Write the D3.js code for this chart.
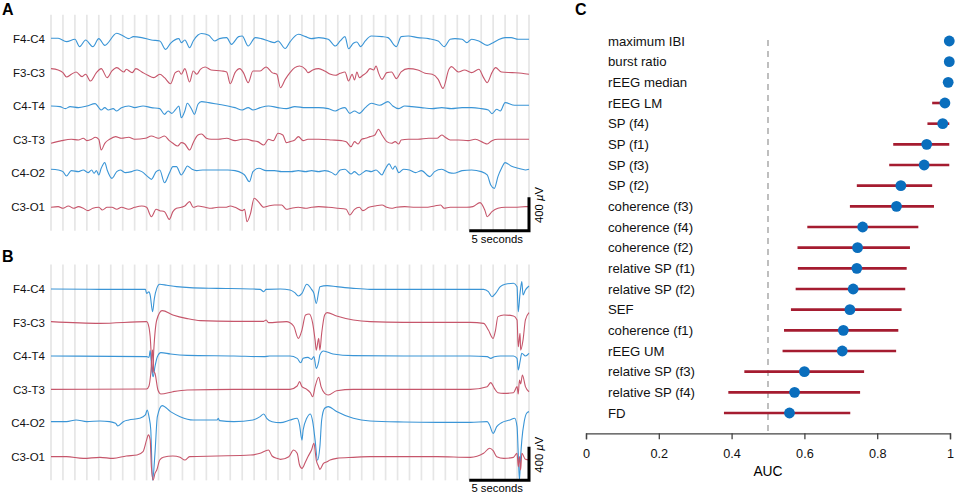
<!DOCTYPE html>
<html lang="en">
<head>
    <meta charset="UTF-8">
    <title>EEG traces and AUC</title>
    <style>
        body{ margin:0; background:#fff; }
        svg{ font-family: "Liberation Sans", Arial, sans-serif; }
        .grid{ stroke:#e6e6e6; stroke-width:1.7px; }
        .blue{ stroke:#3a95d6; stroke-width:1.1px; fill:none; }
        .red{ stroke:#c6566b; stroke-width:1.1px; fill:none; }
        .chan{ font-size:11.5px; fill:#111; }
        .letter{ font-size:16px; font-weight:bold; }
        .bar{ stroke:#000; stroke-width:3px; fill:none; }
        .barText{ font-size:11.3px; }
        .ci{ stroke:#a51c30; stroke-width:2.6px; }
        .dot{ fill:#0a6ebd; }
        .feat{ font-size:13.2px; fill:#111; }
        .xaxisC path, .xaxisC line{ stroke:#444; stroke-width:1.3px; }
        .xaxisC text{ font-size:12.7px; fill:#111; font-family:"Liberation Sans", Arial, sans-serif; }
    </style>
    <script src="https://cdn.jsdelivr.net/npm/d3@7"></script>
</head>
<body>
<svg id="main" width="957" height="495" viewBox="0 0 957 495"></svg>
<script>
    // channel names, time in seconds, values in microvolts
    const channels = ["F4-C4","F3-C3","C4-T4","C3-T3","C4-O2","C3-O1"]
    const chanColor = ["blue","red","blue","red","blue","red"]

    const a_F4C4 = [[0,12],[0.6,12],[1.3,-28],[2.0,0],[2.4,-88],[2.9,-8],[3.5,-88],[4.0,8],[4.5,-72],[5.5,72],[6.05,40],[6.5,8],[6.9,32],[7.6,20],[8.4,-8],[9.1,-20],[9.6,-120],[10.0,-48],[10.7,8],[10.9,-40],[11.2,-8],[11.6,-100],[11.9,-20],[12.3,52],[12.6,70],[13.2,48],[13.7,-20],[14.1,8],[14.7,20],[15.1,-60],[15.7,32],[16.0,40],[16.5,-80],[17.1,20],[17.6,8],[18.2,-20],[18.7,-40],[19.0,-20],[19.6,-110],[20.0,-30],[20.7,60],[21.3,32],[21.8,8],[22.4,20],[23.2,0],[23.8,-80],[24.2,-20],[24.6,32],[24.9,-112],[25.3,-48],[25.6,-32],[25.9,-88],[26.3,-20],[26.8,40],[27.7,32],[28.2,20],[28.9,-88],[29.3,32],[29.9,40],[30.7,20],[31.6,8],[32.4,-20],[32.9,-88],[33.4,0],[33.8,8],[34.4,0],[34.8,-40],[35.2,0],[35.8,-20],[36.5,-72],[36.9,-48],[37.4,-8],[38.0,20],[38.5,20],[39.1,0],[40,0]]
    const a_F3C3 = [[0,50],[0.6,34],[1.0,2],[1.3,-50],[1.7,-18],[2.1,10],[2.6,-46],[2.9,-18],[3.3,-98],[3.8,2],[4.2,50],[4.7,-58],[5.1,22],[5.5,62],[6.1,10],[6.3,42],[6.8,2],[7.1,50],[7.6,10],[8.1,-30],[8.6,-58],[9.1,-18],[9.5,-58],[10.0,-130],[10.4,2],[10.7,22],[10.9,-18],[11.2,50],[11.6,-110],[11.9,22],[12.2,-18],[12.5,42],[12.9,70],[13.4,34],[14.3,22],[14.7,10],[15.0,-130],[15.4,2],[15.8,50],[16.1,2],[16.5,-118],[16.9,22],[17.5,22],[18.0,70],[18.5,2],[18.9,-18],[19.2,-178],[19.6,-78],[20.0,2],[20.4,62],[20.8,82],[21.3,42],[21.5,2],[21.9,34],[22.4,50],[22.9,22],[23.4,-18],[23.8,-30],[24.2,-6],[24.6,10],[24.9,-98],[25.2,-18],[25.4,-86],[25.6,10],[25.8,-58],[26.1,-30],[26.4,2],[26.7,50],[27.0,34],[27.2,82],[27.4,2],[27.7,-78],[28.1,2],[28.5,10],[28.9,-70],[29.3,10],[29.9,50],[30.7,34],[31.3,-6],[31.9,-18],[32.4,-78],[32.8,-186],[33.3,42],[33.5,74],[34.1,10],[34.6,34],[35.2,2],[35.8,42],[36.2,-58],[36.5,-118],[36.9,2],[37.2,62],[37.7,10],[38.6,2],[39.4,-6],[40,-18]]
    const a_C4T4 = [[0,4],[0.75,-4],[1.2,-28],[1.6,-4],[2.3,-16],[3.0,4],[3.7,32],[4.0,-16],[4.2,-44],[4.5,-16],[4.8,-44],[5.2,-28],[5.5,-56],[5.9,-16],[6.5,4],[7.0,-16],[7.7,4],[8.4,-16],[9.1,-28],[9.5,-96],[9.8,-56],[10.1,-84],[10.4,-44],[10.7,4],[10.9,-136],[11.2,-56],[11.4,36],[11.8,-44],[12.0,-96],[12.3,24],[12.6,56],[13.2,44],[14.0,24],[14.8,4],[15.4,-16],[16.0,-44],[16.5,-16],[16.9,-44],[17.5,-16],[18.2,4],[19.0,-16],[19.7,-28],[20.4,-4],[21.3,-16],[22.4,-16],[23.2,-28],[23.8,-56],[24.2,-28],[24.6,-16],[25.0,-84],[25.4,-56],[25.8,-84],[26.3,-16],[26.8,36],[27.5,12],[28.2,56],[28.6,4],[29.1,-28],[29.6,4],[30.2,-4],[31.0,-16],[31.9,-28],[32.7,-16],[33.5,-28],[34.4,-16],[35.2,-16],[36.0,-28],[36.6,-44],[36.9,-88],[37.3,-36],[37.6,-56],[38.0,44],[38.8,12],[40,12]]
    const a_C3T3 = [[0,-42],[0.9,-10],[1.7,6],[2.3,-2],[2.7,18],[3.0,-10],[3.4,6],[3.7,30],[4.0,6],[4.2,-122],[4.5,-42],[4.9,6],[5.4,38],[5.9,18],[6.5,30],[7.0,6],[7.9,18],[8.4,46],[9.0,18],[9.5,46],[9.9,-10],[10.2,-42],[10.6,-74],[10.9,-34],[11.2,-50],[11.6,-122],[11.9,-34],[12.3,58],[12.6,70],[13.0,18],[13.4,6],[14.0,6],[14.7,18],[15.4,-10],[16.0,6],[16.4,6],[16.8,-10],[17.3,-22],[17.8,-62],[18.2,6],[18.6,-10],[19.0,78],[19.4,58],[19.7,-34],[20.0,-22],[20.4,-2],[20.7,38],[21.1,-10],[21.5,6],[22.4,6],[23.5,-2],[24.3,-10],[24.7,-22],[25.1,-82],[25.4,-22],[25.7,-50],[26.0,6],[26.3,18],[26.7,38],[27.1,58],[27.4,126],[27.7,58],[28.1,-22],[28.5,-42],[28.8,-22],[29.1,-50],[29.3,-2],[29.9,6],[30.7,6],[31.6,18],[32.3,18],[32.7,58],[33.0,30],[33.4,-2],[34.1,-2],[34.9,-10],[35.5,6],[36.2,-34],[36.5,-50],[36.9,-10],[37.4,6],[38.3,6],[39.1,6],[40,6]]
    const a_C4O2 = [[0,48],[0.6,40],[1.0,20],[1.3,-32],[1.7,32],[2.3,20],[2.7,40],[3.1,8],[3.4,40],[3.6,0],[3.8,32],[4.0,-20],[4.2,60],[4.5,128],[4.7,40],[5.1,-60],[5.5,20],[5.8,40],[6.2,8],[6.75,20],[7.2,40],[7.6,20],[8.1,-40],[8.4,-72],[8.8,20],[9.1,40],[9.5,-112],[9.9,0],[10.2,80],[10.5,80],[10.9,-20],[11.2,40],[11.4,88],[11.8,48],[12.2,32],[12.7,40],[13.4,40],[14.3,40],[14.8,40],[15.4,32],[16.0,0],[16.2,-20],[16.6,-100],[16.9,20],[17.4,60],[18.0,32],[18.7,32],[19.3,20],[20.1,20],[20.7,32],[21.3,20],[21.8,32],[22.4,20],[22.9,32],[23.5,8],[23.8,-20],[24.2,40],[24.6,48],[25.1,-8],[25.4,20],[25.8,-20],[26.1,8],[26.4,32],[26.8,20],[27.2,40],[27.7,-20],[27.9,32],[28.3,112],[28.6,48],[28.8,88],[29.1,8],[29.5,48],[30.0,40],[30.5,8],[31.0,32],[31.7,-40],[32.1,20],[32.7,48],[33.3,8],[33.7,0],[34.4,32],[35.2,40],[36.0,20],[36.5,-20],[36.8,-140],[37.1,-180],[37.4,-40],[37.7,60],[38.0,128],[38.5,88],[39.1,60],[39.7,40],[40,48]]
    const a_C3O1 = [[0,-6],[0.6,2],[1.0,-18],[1.45,10],[1.9,-18],[2.3,2],[2.7,-18],[3.1,-46],[3.5,-18],[4.0,-6],[4.3,-38],[4.7,-6],[5.1,-6],[5.5,-30],[5.9,-6],[6.5,-30],[7.0,-6],[7.6,10],[8.0,-6],[8.4,-118],[8.8,-30],[9.1,-46],[9.5,-58],[9.9,-150],[10.2,-58],[10.5,-18],[10.9,-6],[11.2,10],[11.6,62],[11.9,-6],[12.3,10],[12.9,-6],[13.4,-18],[14.0,-6],[14.6,-6],[15.0,10],[15.4,-6],[16.0,-46],[16.2,-30],[16.4,-178],[16.7,-78],[17.0,102],[17.35,62],[17.8,-6],[18.2,10],[18.7,22],[19.3,22],[19.7,-30],[20.1,-18],[20.7,-6],[21.3,-18],[21.8,-6],[22.4,2],[23.2,-6],[24.0,-18],[24.7,-30],[25.0,-98],[25.4,-30],[25.8,-6],[26.1,-46],[26.6,-6],[27.1,10],[27.7,22],[28.1,-6],[28.5,-18],[28.9,-6],[29.6,2],[30.5,-6],[31.3,-6],[32.1,10],[32.6,22],[32.9,-18],[33.4,-6],[34.1,-6],[34.8,-6],[35.3,2],[35.9,50],[36.3,-38],[36.5,-118],[36.9,-58],[37.4,-18],[38.0,-6],[38.8,-6],[39.7,2],[40,2]]

    const b_F4C4 = [[0,0],[4.1,-4],[7.9,-4],[8.0,-52],[8.2,-32],[8.3,-72],[8.5,-272],[8.65,-112],[8.85,8],[9.1,56],[9.7,44],[10.5,28],[11.6,16],[13.9,8],[16.7,0],[17.5,-4],[17.8,-32],[18.0,-4],[19.2,0],[20.0,-12],[20.4,-44],[20.7,-84],[21.0,-52],[21.4,56],[21.8,-4],[22.0,-52],[22.2,-172],[22.4,-32],[22.5,28],[23.1,40],[23.9,28],[25.3,8],[26.7,-4],[29.5,-4],[32.3,-4],[35.1,-4],[36.2,-4],[36.6,-32],[36.9,-92],[37.2,-52],[37.6,28],[38.0,56],[38.7,68],[39.0,28],[39.1,-272],[39.25,-52],[39.4,88],[39.5,-72],[39.7,-12],[40,36]]
    const b_F3C3 = [[0,10],[4.1,-10],[8.0,10],[8.2,-58],[8.3,-170],[8.5,-610],[8.6,-330],[8.85,30],[9.3,142],[10.2,90],[11.4,46],[12.5,22],[15.3,14],[17.8,14],[18.0,30],[18.2,-2],[19.7,10],[20.3,-42],[20.7,-190],[21.0,-90],[21.3,90],[21.6,102],[21.9,-10],[22.1,-210],[22.2,-330],[22.4,-190],[22.5,-330],[22.65,-130],[22.9,90],[23.1,118],[23.9,78],[25.3,30],[26.7,10],[29.5,2],[32.3,2],[35.1,2],[36.2,-10],[36.6,-90],[37.0,-190],[37.2,-90],[37.4,70],[37.9,90],[38.7,78],[39.0,30],[39.1,-290],[39.25,-130],[39.3,-330],[39.5,-210],[39.7,30],[40,118]]
    const b_C4T4 = [[0,0],[8.0,-8],[8.2,-16],[8.3,64],[8.45,-188],[8.55,-248],[8.7,-128],[8.9,-8],[9.2,40],[10.0,24],[11.4,8],[15.3,0],[17.8,-8],[18.3,0],[20.0,0],[20.6,-28],[20.9,-80],[21.1,-28],[21.5,-16],[21.8,-40],[22.0,-8],[22.2,-148],[22.4,-68],[22.5,12],[22.8,60],[23.6,24],[25.3,4],[29.5,0],[35.1,0],[36.5,-8],[36.8,-28],[37.1,-8],[37.6,0],[38.7,0],[39.0,-28],[39.1,-168],[39.25,-68],[39.4,32],[39.7,0],[40,32]]
    const b_C3T3 = [[0,2],[8.0,6],[8.2,42],[8.35,194],[8.5,474],[8.6,214],[8.7,194],[8.95,-6],[9.2,-54],[10.2,-26],[11.4,-6],[15.3,2],[19.2,2],[20.0,2],[20.6,42],[20.8,94],[21.0,34],[21.4,2],[21.7,-38],[21.9,-86],[22.1,34],[22.4,146],[22.6,34],[22.9,-46],[23.2,-66],[23.9,-14],[25.3,2],[29.5,2],[35.1,2],[36.5,34],[36.8,82],[37.1,14],[37.4,-38],[37.9,-46],[38.7,-38],[39.0,34],[39.1,-54],[39.2,114],[39.3,66],[39.45,174],[39.7,34],[40,-26]]
    const b_C4O2 = [[0,16],[1.3,16],[2.1,36],[3.0,16],[4.1,24],[4.9,16],[5.4,-4],[5.6,-36],[6.05,16],[6.5,36],[7.4,56],[7.9,96],[8.05,156],[8.2,76],[8.35,-84],[8.5,-684],[8.7,-364],[8.9,76],[9.3,208],[10.0,136],[10.8,76],[11.9,36],[13.9,36],[14.0,56],[14.1,28],[15.3,16],[16.9,36],[17.5,76],[17.8,108],[18.05,56],[18.5,16],[19.2,4],[20.0,36],[20.6,56],[20.8,-24],[21.0,-204],[21.1,-84],[21.4,56],[21.7,108],[21.9,16],[22.1,-204],[22.3,-444],[22.5,-284],[22.65,36],[22.9,176],[23.2,196],[23.9,136],[25.3,56],[26.7,24],[29.5,12],[32.3,8],[35.1,8],[36.5,16],[36.7,-24],[37.0,-124],[37.3,-44],[37.7,4],[38.4,36],[38.8,56],[39.0,-44],[39.1,-364],[39.2,-684],[39.3,-404],[39.4,-204],[39.6,16],[39.8,116],[40,136]]
    const b_C3O1 = [[0,-2],[1.3,-2],[2.7,-22],[4.1,-10],[5.2,-22],[6.3,6],[7.2,18],[7.7,58],[8.0,198],[8.15,258],[8.3,198],[8.4,-122],[8.55,-282],[8.7,-202],[8.85,-162],[9.1,-42],[9.4,-10],[10.2,6],[10.8,-10],[11.2,-42],[11.6,-2],[13.9,6],[16.7,18],[17.5,38],[18.2,78],[18.5,6],[18.9,-22],[19.2,-34],[19.9,-2],[20.3,78],[20.6,38],[20.8,-102],[21.0,-142],[21.3,-62],[21.5,-2],[21.8,78],[22.0,158],[22.2,-42],[22.4,-122],[22.5,-154],[22.8,-82],[23.1,-62],[23.35,-42],[23.9,-22],[25.3,-10],[26.7,-2],[32.3,-2],[35.1,-10],[36.2,38],[36.7,98],[37.0,70],[37.3,-2],[37.9,-22],[38.7,-10],[39.0,38],[39.1,-122],[39.2,-2],[39.3,-162],[39.4,38],[39.7,-34],[40,-42]]

    const seconds = d3.range(0,41)

    // panel C
    const features = ["maximum IBI","burst ratio","rEEG median","rEEG LM","SP (f4)","SP (f1)","SP (f3)","SP (f2)","coherence (f3)","coherence (f4)","coherence (f2)","relative SP (f1)","relative SP (f2)","SEF","coherence (f1)","rEEG UM","relative SP (f3)","relative SP (f4)","FD"]
    const auc    = [0.998,0.998,0.995,0.986,0.980,0.936,0.929,0.865,0.853,0.760,0.746,0.744,0.734,0.725,0.707,0.704,0.600,0.573,0.559]
    const ciLow  = [null,null,null,0.951,0.938,0.844,0.833,0.744,0.725,0.608,0.581,0.582,0.576,0.563,0.544,0.540,0.435,0.391,0.379]
    const ciHigh = [null,null,null,0.998,0.998,0.998,0.998,0.951,0.956,0.913,0.890,0.881,0.877,0.867,0.858,0.852,0.764,0.753,0.726]
    const aucTicks = [0,0.2,0.4,0.6,0.8,1]

    const svg = d3.select("#main")
    const spacing = 400

    const xScale = d3.scaleLinear().domain([0,40]).range([51,529])

    function drawPanel(traces, top){
        const yScale = d3.scaleLinear().domain([0,-5*spacing]).range([top, top+167.5])
        const g = svg.append("g")

        g.selectAll(".grid")
            .data(seconds)
            .enter()
            .append("line")
            .attr("class","grid")
            .attr("x1",d=>xScale(d)).attr("x2",d=>xScale(d))
            .attr("y1",yScale(292)).attr("y2",yScale(-2285))

        channels.forEach((name,i)=>{
            const off = -i*spacing
            const line = d3.line()
                .x(d=>xScale(d[0]))
                .y(d=>yScale(d[1]+off))
                .curve(d3.curveMonotoneX)
            g.append("path")
                .attr("class",chanColor[i])
                .attr("d",line(traces[i]))
            g.append("text")
                .attr("class","chan")
                .attr("x",45)
                .attr("y",yScale(off))
                .attr("dy","0.36em")
                .attr("text-anchor","end")
                .text(name)
        })

        // scale bars
        const yb = yScale(-2285), yt = yScale(-2285+400)
        g.append("path")
            .attr("class","bar")
            .attr("d",`M${xScale(35)},${yb}H${xScale(40)}V${yt}`)
        g.append("text")
            .attr("class","barText")
            .attr("x",(xScale(35)+xScale(40))/2 - 2)
            .attr("y",yb+12)
            .attr("text-anchor","middle")
            .text("5 seconds")
        const lbl = g.append("text")
            .attr("class","barText")
            .attr("text-anchor","middle")
            .attr("transform",`translate(${xScale(40)+14},${(yb+yt)/2-9}) rotate(-90)`)
        lbl.append("tspan").text("400 ")
        lbl.append("tspan").attr("font-style","italic").text("\u00b5")
        lbl.append("tspan").text("V")
    }

    drawPanel([a_F4C4,a_F3C3,a_C4T4,a_C3T3,a_C4O2,a_C3O1], 39.3)
    drawPanel([b_F4C4,b_F3C3,b_C4T4,b_C3T3,b_C4O2,b_C3O1], 289)

    svg.append("text").attr("class","letter").attr("x",2).attr("y",15).text("A")
    svg.append("text").attr("class","letter").attr("x",2).attr("y",262).text("B")
    svg.append("text").attr("class","letter").attr("x",575).attr("y",15).text("C")

    // AUC panel
    const xC = d3.scaleLinear().domain([0,1]).range([586,950])
    const yC = d3.scalePoint().domain(features).range([41,413])
    const rows = features.map((f,i)=>({f:f, auc:auc[i], lo:ciLow[i], hi:ciHigh[i]}))

    svg.append("line")
        .attr("x1",xC(0.5)).attr("x2",xC(0.5))
        .attr("y1",40).attr("y2",433)
        .attr("stroke","#b8b8b8")
        .attr("stroke-width",1.8)
        .attr("stroke-dasharray","6,5")

    svg.append("g")
        .attr("class","xaxisC")
        .attr("transform","translate(0,433.3)")
        .call(d3.axisBottom(xC).tickValues(aucTicks).tickSizeOuter(0).tickSize(6).tickPadding(10)
            .tickFormat(d=>(d===0||d===1)?String(d):d.toFixed(1)))
        .call(g=>g.selectAll("text").attr("fill","#111"))

    svg.append("text")
        .attr("x",xC(0.5))
        .attr("y",476)
        .attr("text-anchor","middle")
        .attr("font-size","13.8px")
        .text("AUC")

    svg.append("g")
        .selectAll("text")
        .data(rows)
        .enter()
        .append("text")
        .attr("class","feat")
        .attr("x",608)
        .attr("y",d=>yC(d.f))
        .attr("dy","0.36em")
        .text(d=>d.f)

    svg.append("g")
        .selectAll("line")
        .data(rows.filter(d=>d.lo!==null))
        .enter()
        .append("line")
        .attr("class","ci")
        .attr("x1",d=>xC(d.lo)).attr("x2",d=>xC(d.hi))
        .attr("y1",d=>yC(d.f)).attr("y2",d=>yC(d.f))

    svg.append("g")
        .selectAll("circle")
        .data(rows)
        .enter()
        .append("circle")
        .attr("class","dot")
        .attr("cx",d=>xC(d.auc))
        .attr("cy",d=>yC(d.f))
        .attr("r",5.4)
</script>
</body>
</html>
